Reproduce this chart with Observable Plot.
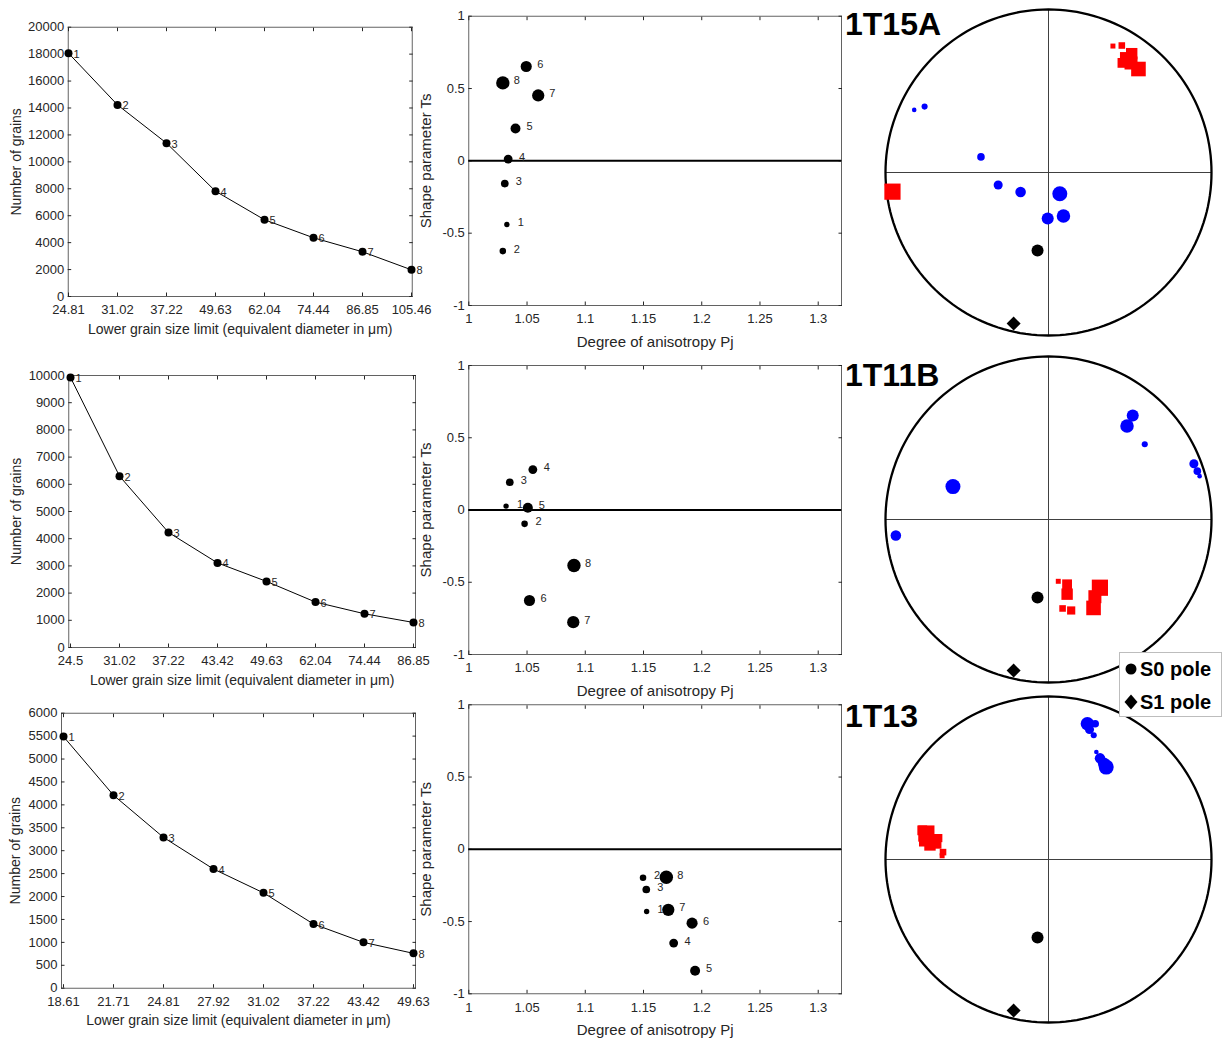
<!DOCTYPE html>
<html><head><meta charset="utf-8">
<script src="https://cdn.jsdelivr.net/npm/d3@7"></script>
<script src="https://cdn.jsdelivr.net/npm/@observablehq/plot@0.6"></script>
<style>
body{margin:0;background:#fff;}
#root{position:relative;width:1222px;height:1039px;overflow:hidden;font-family:"Liberation Sans",Arial,sans-serif;background:#fff;}
.panel{position:absolute;}
.title{position:absolute;font-weight:bold;font-size:32px;line-height:32px;color:#000;white-space:nowrap;}
.legend{position:absolute;background:#fff;border:1px solid #bdbdbd;box-sizing:border-box;z-index:10;}
.legend .item{position:absolute;font-weight:bold;font-size:20px;line-height:20px;color:#000;white-space:nowrap;}
</style></head><body><div id="root"></div>
<script>
// ---------- data ----------
const sampleNames = ["1T15A", "1T11B", "1T13"];
const pointIndex = [1, 2, 3, 4, 5, 6, 7, 8];

const grainLimits15A = ["24.81", "31.02", "37.22", "49.63", "62.04", "74.44", "86.85", "105.46"];
const grainCounts15A = [18070, 14230, 11390, 7820, 5700, 4360, 3320, 1980];
const grainLimits11B = ["24.5", "31.02", "37.22", "43.42", "49.63", "62.04", "74.44", "86.85"];
const grainCounts11B = [9930, 6300, 4230, 3110, 2430, 1670, 1240, 920];
const grainLimits13 = ["18.61", "21.71", "24.81", "27.92", "31.02", "37.22", "43.42", "49.63"];
const grainCounts13 = [5490, 4210, 3290, 2600, 2080, 1400, 1000, 760];

const pj15A = [1.0327, 1.0292, 1.0309, 1.0338, 1.0401, 1.0493, 1.0596, 1.0292];
const ts15A = [-0.44, -0.624, -0.157, 0.012, 0.224, 0.652, 0.452, 0.539];
const pj11B = [1.032, 1.0479, 1.0352, 1.055, 1.0507, 1.0521, 1.0897, 1.0903];
const ts11B = [0.027, -0.096, 0.192, 0.28, 0.015, -0.626, -0.776, -0.384];
const pj13 = [1.1527, 1.1496, 1.1524, 1.1759, 1.1943, 1.1917, 1.1713, 1.1696];
const ts13 = [-0.43, -0.197, -0.278, -0.649, -0.841, -0.511, -0.419, -0.193];

const pjTicks = [1, 1.05, 1.1, 1.15, 1.2, 1.25, 1.3];
const tsTicks = [-1, -0.5, 0, 0.5, 1];

// stereonet: trend / plunge (degrees), lower hemisphere
const k1Trend15A = [27, 30, 33, 34, 35, 37, 41, 263];
const k1Plunge15A = [14, 11, 16, 20, 12, 17, 17, 4];
const k3Trend15A = [295, 298, 283, 256, 235, 181, 161, 152];
const k3Plunge15A = [10, 15, 55, 64, 73, 67, 67, 78];
const k1Trend11B = [171, 171, 166, 164, 166, 149, 153, 143];
const k1Plunge11B = [58.5, 44, 42, 56, 51, 44, 39, 46.5];
const k3Trend11B = [74, 52, 72, 69, 264, 39, 40, 289];
const k3Plunge11B = [4, 26, 4.5, 5, 6.5, 19, 26, 38];
const k1Trend13 = [272, 274, 281, 283, 277, 279, 279, 282];
const k1Plunge13 = [35, 35.4, 31.7, 21.6, 27.6, 24.6, 29.7, 24.4];
const k3Trend13 = [24, 20, 19, 17.5, 27, 30, 16, 32];
const k3Plunge13 = [28.6, 20, 13, 17.5, 31, 32.5, 14.5, 33.6];
const s0Pole = {trend: 188, plunge: 50};
const s1Pole = {trend: 193, plunge: 5.5};
const legendLabels = ["S0 pole", "S1 pole"];

// ---------- helpers ----------
const INK = "#262626";
const FONT = "'Liberation Sans', Arial, Helvetica, sans-serif";
const FS = 13;
const root = document.getElementById("root");
const num = d => String(+(+d).toFixed(2));
const blank = () => "";

function place(node, left, top) {
  const d = document.createElement("div");
  d.className = "panel";
  d.style.left = left + "px";
  d.style.top = top + "px";
  d.appendChild(node);
  root.appendChild(d);
}

function baseStyle() {
  return {background: "transparent", fontFamily: FONT, fontSize: FS + "px", color: INK, overflow: "visible"};
}

function grainChart(limits, counts, yMax, yStep, width, height, m, yLabelOffset) {
  const data = limits.map((lim, i) => ({lim, count: counts[i], idx: pointIndex[i]}));
  const yTicks = d3.range(0, yMax + 1, yStep);
  return Plot.plot({
    width, height,
    marginLeft: m[0], marginRight: m[1], marginTop: m[2], marginBottom: m[3],
    style: baseStyle(),
    x: {type: "point", domain: limits, padding: 0},
    y: {domain: [0, yMax]},
    marks: [
      Plot.frame({stroke: "#3c3c3c", strokeWidth: 0.8}),
      Plot.axisY({ticks: yTicks, tickFormat: d => String(d), tickSize: -3.5, tickPadding: 7.5, fontSize: FS, label: null}),
      Plot.axisY({ticks: [], tickSize: 0, fontSize: 14,
        label: "Number of grains", labelAnchor: "center", labelOffset: yLabelOffset, labelArrow: "none"}),
      Plot.axisY({anchor: "right", ticks: yTicks, tickFormat: blank, tickSize: -3.5, label: null}),
      Plot.axisX({tickSize: -3.5, tickPadding: 12, fontSize: FS, label: null}),
      Plot.axisX({ticks: [], tickSize: 0, fontSize: 14,
        label: "Lower grain size limit (equivalent diameter in μm)", labelAnchor: "center", labelOffset: 37, labelArrow: "none"}),
      Plot.axisX({anchor: "top", tickSize: -3.5, tickFormat: blank, label: null}),
      Plot.line(data, {x: "lim", y: "count", stroke: "#000", strokeWidth: 1}),
      Plot.dot(data, {x: "lim", y: "count", r: 4, fill: "#000"}),
      Plot.text(data, {x: "lim", y: "count", text: "idx", dx: 5, dy: 1, textAnchor: "start", fontSize: 11, fill: INK})
    ]
  });
}

function shapeChart(pj, ts, width, height, m) {
  const data = pj.map((p, i) => ({pj: p, ts: ts[i], idx: pointIndex[i]}));
  return Plot.plot({
    width, height,
    marginLeft: m[0], marginRight: m[1], marginTop: m[2], marginBottom: m[3],
    style: baseStyle(),
    x: {domain: [1, 1.32]},
    y: {domain: [-1, 1]},
    r: {type: "linear", domain: [1, 8], range: [2.7, 6.7]},
    marks: [
      Plot.frame({stroke: "#3c3c3c", strokeWidth: 0.8}),
      Plot.axisX({ticks: pjTicks, tickFormat: num, tickSize: -3.5, tickPadding: 12, fontSize: FS, label: null}),
      Plot.axisX({ticks: [], tickSize: 0, fontSize: 15,
        label: "Degree of anisotropy Pj", labelAnchor: "center", labelOffset: 41, labelArrow: "none"}),
      Plot.axisX({anchor: "top", ticks: pjTicks, tickFormat: blank, tickSize: -3.5, label: null}),
      Plot.axisY({ticks: tsTicks, tickFormat: num, tickSize: -3.5, tickPadding: 7.5, fontSize: FS, label: null}),
      Plot.axisY({ticks: [], tickSize: 0, fontSize: 15,
        label: "Shape parameter Ts", labelAnchor: "center", labelOffset: 48, labelArrow: "none"}),
      Plot.axisY({anchor: "right", ticks: tsTicks, tickFormat: blank, tickSize: -3.5, label: null}),
      Plot.ruleY([0], {stroke: "#000", strokeWidth: 2}),
      Plot.dot(data, {x: "pj", y: "ts", r: "idx", fill: "#000"}),
      Plot.text(data, {x: "pj", y: "ts", text: "idx", dx: 14, dy: -2, fontSize: 11, fill: INK})
    ]
  });
}

// lower-hemisphere equal-area projection (unit primitive circle)
function project(trend, plunge) {
  const t = trend * Math.PI / 180;
  const theta = (90 - plunge) * Math.PI / 180;
  const r = Math.SQRT2 * Math.sin(theta / 2);
  return {x: r * Math.sin(t), y: r * Math.cos(t)};
}

const squareSymbol = {
  draw(ctx, size) {
    const h = Math.sqrt(size) * 0.61;
    ctx.moveTo(-h, -h); ctx.lineTo(h, -h); ctx.lineTo(h, h); ctx.lineTo(-h, h); ctx.closePath();
  }
};

function stereoChart(k1T, k1P, k3T, k3P) {
  const k1 = k1T.map((t, i) => ({...project(t, k1P[i]), idx: pointIndex[i]}));
  const k3 = k3T.map((t, i) => ({...project(t, k3P[i]), idx: pointIndex[i]}));
  const rim = d3.range(0, 361, 2).map(t => project(t, 0));
  const s0 = project(s0Pole.trend, s0Pole.plunge);
  const s1 = project(s1Pole.trend, s1Pole.plunge);
  return Plot.plot({
    width: 340, height: 340, margin: 7,
    style: {background: "transparent", overflow: "visible"},
    x: {domain: [-1, 1], axis: null},
    y: {domain: [-1, 1], axis: null},
    r: {type: "linear", domain: [1, 8], range: [2.3, 7.5]},
    marks: [
      Plot.ruleX([0], {y1: -1, y2: 1, stroke: "#404040", strokeWidth: 1}),
      Plot.ruleY([0], {x1: -1, x2: 1, stroke: "#404040", strokeWidth: 1}),
      Plot.line(rim, {x: "x", y: "y", stroke: "#000", strokeWidth: 2.3}),
      Plot.dot(k3, {x: "x", y: "y", r: "idx", fill: "#0000ff"}),
      Plot.dot(k1, {x: "x", y: "y", r: "idx", fill: "#ff0000", symbol: squareSymbol}),
      Plot.dot([s0], {x: "x", y: "y", r: 6, fill: "#000"}),
      Plot.dot([s1], {x: "x", y: "y", r: 6.3, fill: "#000", symbol: "diamond2"})
    ]
  });
}

// ---------- build ----------
place(grainChart(grainLimits15A, grainCounts15A, 20000, 2000, 430, 345, [67.7, 18.3, 26.7, 49], 57.5), 0, 0);
place(grainChart(grainLimits11B, grainCounts11B, 10000, 1000, 430, 340, [68.3, 15, 20, 48], 58), 0, 355);
place(grainChart(grainLimits13, grainCounts13, 6000, 500, 430, 344, [61, 15, 17.7, 51.3], 51), 0, 695);

place(shapeChart(pj15A, ts15A, 440, 350, [58.3, 9, 15.7, 45]), 410, 0);
place(shapeChart(pj11B, ts11B, 440, 345, [58.3, 9, 10, 46]), 410, 355);
place(shapeChart(pj13, ts13, 440, 344, [58.3, 9, 9.3, 45.7]), 410, 695);

place(stereoChart(k1Trend15A, k1Plunge15A, k3Trend15A, k3Plunge15A), 878.3, 1.7);
place(stereoChart(k1Trend11B, k1Plunge11B, k3Trend11B, k3Plunge11B), 878.3, 348.7);
place(stereoChart(k1Trend13, k1Plunge13, k3Trend13, k3Plunge13), 878.3, 689);

const titleTops = [8, 358.7, 699.7];
sampleNames.forEach((name, i) => {
  const t = document.createElement("div");
  t.className = "title";
  t.textContent = name;
  t.style.left = "845px";
  t.style.top = titleTops[i] + "px";
  root.appendChild(t);
});

// legend
const legend = document.createElement("div");
legend.className = "legend";
Object.assign(legend.style, {left: "1119px", top: "652px", width: "103px", height: "65px"});
const svgNS = "http://www.w3.org/2000/svg";
const msvg = document.createElementNS(svgNS, "svg");
msvg.setAttribute("width", "24"); msvg.setAttribute("height", "65");
Object.assign(msvg.style, {position: "absolute", left: "0px", top: "0px"});
const c = document.createElementNS(svgNS, "circle");
c.setAttribute("cx", "11"); c.setAttribute("cy", "16"); c.setAttribute("r", "5.5"); c.setAttribute("fill", "#000");
const dm = document.createElementNS(svgNS, "path");
dm.setAttribute("d", "M11,41.5 L17.5,49 L11,56.5 L4.5,49 Z"); dm.setAttribute("fill", "#000");
msvg.appendChild(c); msvg.appendChild(dm);
legend.appendChild(msvg);
legendLabels.forEach((lab, i) => {
  const s = document.createElement("div");
  s.className = "item";
  s.textContent = lab;
  s.style.left = "20px";
  s.style.top = (i === 0 ? 6 : 39) + "px";
  legend.appendChild(s);
});
root.appendChild(legend);
</script></body></html>
